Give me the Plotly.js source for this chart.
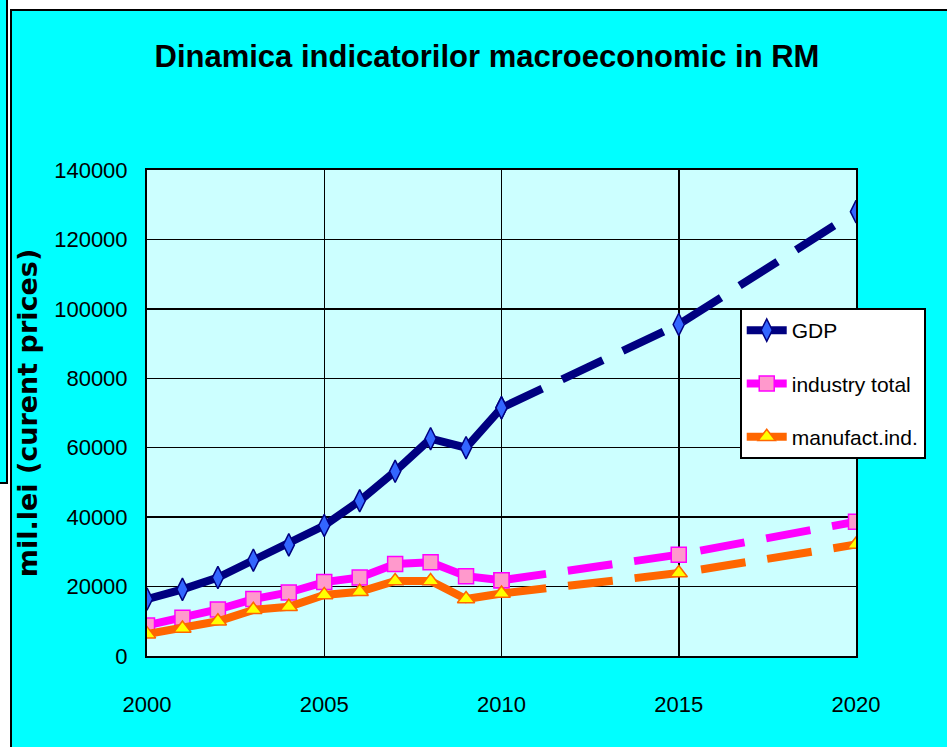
<!DOCTYPE html>
<html>
<head>
<meta charset="utf-8">
<script src="https://cdn.plot.ly/plotly-3.0.1.min.js"></script>
<style>
  html, body { margin: 0; padding: 0; background: #ffffff; width: 947px; height: 747px; overflow: hidden; }
  #strip { position: absolute; left: 0; top: 0; width: 6px; height: 482px; background: #00ffff; border-right: 2px solid #000; border-bottom: 2px solid #000; }
  #frame { position: absolute; left: 10px; top: 9px; width: 937px; height: 738px; background: #000; }
  #chart { position: absolute; left: 12px; top: 11px; width: 935px; height: 736px; }
</style>
</head>
<body>
<div id="strip"></div>
<div id="frame"></div>
<div id="chart"></div>
<script>
// ---- data ----
const yearsHist = [2000, 2001, 2002, 2003, 2004, 2005, 2006, 2007, 2008, 2009, 2010];
const gdpHist = [16400, 19200, 22600, 27600, 32000, 37600, 44700, 53200, 62600, 60000, 71500];
const industryHist = [8800, 11000, 13400, 16400, 18300, 21300, 22600, 26500, 27000, 23000, 21800];
const manufHist = [6300, 7900, 10000, 13300, 14200, 17600, 18500, 21600, 21600, 16400, 18000];

const yearsProj = [2010, 2015, 2020];
const gdpProj = [71500, 95500, 128000];
const industryProj = [21800, 29200, 38700];
const manufProj = [18000, 23900, 32100];

const seriesNames = ["GDP", "industry total", "manufact.ind."];
const xTicks = [2000, 2005, 2010, 2015, 2020];
const yTicks = [0, 20000, 40000, 60000, 80000, 100000, 120000, 140000];

// ---- styles ----
const FONT = "'Liberation Sans', Arial, sans-serif";
const DASH = "45px,22px";
const styles = [
  { line: "#000080", fill: "#3366ff", symbol: "diamond-tall", size: 16, group: "g" },
  { line: "#ff00ff", fill: "#ff99cc", symbol: "square", size: 15, group: "i" },
  { line: "#ff6600", fill: "#ffff00", symbol: "triangle-up", size: 15, group: "m" }
];
const hist = [gdpHist, industryHist, manufHist];
const proj = [gdpProj, industryProj, manufProj];

const traces = [];
hist.forEach((ys, k) => {
  const s = styles[k];
  traces.push({
    type: "scatter", mode: "lines+markers", name: seriesNames[k],
    x: yearsHist, y: ys, legendgroup: s.group,
    line: { color: s.line, width: 8 },
    marker: { symbol: s.symbol, size: s.size, color: s.fill, line: { color: s.line, width: 1.5 } }
  });
});
proj.forEach((ys, k) => {
  const s = styles[k];
  traces.push({
    type: "scatter", mode: "lines+markers", name: seriesNames[k],
    x: yearsProj, y: ys, legendgroup: s.group, showlegend: false,
    line: { color: s.line, width: 8, dash: DASH },
    marker: { symbol: s.symbol, size: s.size, color: s.fill, line: { color: s.line, width: 1.5 } }
  });
});

const layout = {
  width: 935, height: 736,
  margin: { l: 135, r: 91, t: 159, b: 91 },
  paper_bgcolor: "#00ffff",
  plot_bgcolor: "#ccffff",
  showlegend: true,
  title: {
    text: "Dinamica indicatorilor macroeconomic in RM",
    font: { family: FONT, size: 31, color: "#000", weight: "bold" },
    x: 0.508, xanchor: "center", xref: "container",
    y: 0.938, yanchor: "middle", yref: "container"
  },
  xaxis: {
    range: [2000, 2020],
    tickmode: "array", tickvals: xTicks, ticktext: xTicks.map(String),
    showgrid: true, gridcolor: "#000", gridwidth: 1.5,
    showline: true, linecolor: "#000", linewidth: 2, mirror: true,
    zeroline: false, ticks: "", ticklabelstandoff: 28,
    tickfont: { family: FONT, size: 22, color: "#000" }
  },
  yaxis: {
    range: [0, 140000],
    tickmode: "array", tickvals: yTicks, ticktext: yTicks.map(String),
    showgrid: true, gridcolor: "#000", gridwidth: 1.5,
    showline: true, linecolor: "#000", linewidth: 2, mirror: true,
    zeroline: false, ticks: "", ticklabelstandoff: 13,
    tickfont: { family: FONT, size: 22, color: "#000" },
    title: {
      text: "mil.lei (curent prices)",
      font: { family: "'DejaVu Sans', sans-serif", size: 27, color: "#000", weight: "bold" },
      standoff: 16
    }
  },
  legend: {
    x: 0.836, xanchor: "left", y: 0.716, yanchor: "top",
    bgcolor: "#ffffff", bordercolor: "#000", borderwidth: 2,
    font: { family: FONT, size: 21, color: "#000" },
    traceorder: "grouped", tracegroupgap: 23, itemwidth: 40
  }
};

Plotly.newPlot("chart", traces, layout, { displayModeBar: false, staticPlot: true });
</script>
</body>
</html>
